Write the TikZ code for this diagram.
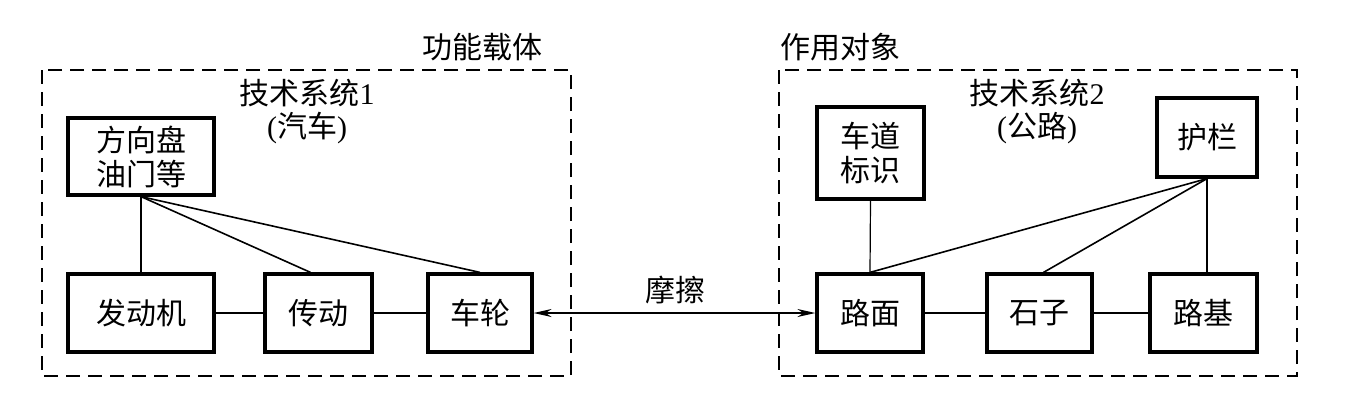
\documentclass[tikz,border=0pt]{standalone}
\usepackage{fontspec}
\setmainfont{Liberation Serif}
\newfontfamily\cjk{Noto Sans CJK SC}
\usetikzlibrary{arrows.meta}
\begin{document}
\begin{tikzpicture}[x=0.5pt,y=-0.5pt,
  box/.style={draw,line width=1.6pt,align=center,inner sep=0pt,font=\cjk\fontsize{15}{17}\selectfont},
  lbl/.style={inner sep=0pt,align=center,font=\cjk\fontsize{15}{17}\selectfont},
  frame/.style={draw,line width=1pt,dash pattern=on 7pt off 4pt},
  link/.style={line width=0.8pt},
  thinlink/.style={line width=0.6pt},
  >={Stealth[length=9pt,width=4pt]}]
\useasboundingbox (0,0) rectangle (1355,403);
% frames
\draw[frame] (42,70) rectangle (571,376);
\draw[frame] (779,70) rectangle (1297,376);
\node[lbl] (t1) at (482,47) {功能载体};
\node[lbl] (t2) at (840,47) {作用对象};
\node[lbl] (s1) at (307,93) {技术系统\textrm{1}};
\node[lbl] (p1) at (307,128) {\textrm{(}汽车\textrm{)}};
\node[lbl] (s2) at (1037,93) {技术系统\textrm{2}};
\node[lbl] (p2) at (1037,128) {\textrm{(}公路\textrm{)}};
% left system
\node[box,minimum width=73pt,minimum height=38.5pt] (fx) at (141,156.5) {方向盘\\油门等};
\node[box,minimum width=73pt,minimum height=39pt] (fdj) at (141,313) {发动机};
\node[box,minimum width=53.5pt,minimum height=39pt] (cd) at (318.5,313) {传动};
\node[box,minimum width=52pt,minimum height=39pt] (cl) at (480,313) {车轮};
% right system
\node[box,minimum width=53.5pt,minimum height=46pt] (cdbs) at (870.5,153) {车道\\标识};
\node[box,minimum width=50pt,minimum height=39.5pt] (hl) at (1207,137.5) {护栏};
\node[box,minimum width=53pt,minimum height=39pt] (lm) at (870,313) {路面};
\node[box,minimum width=52.5pt,minimum height=39pt] (sz) at (1039.5,313) {石子};
\node[box,minimum width=53.5pt,minimum height=39pt] (lj) at (1203.5,313) {路基};
% left connectors
\draw[thinlink] (fx.south) -- (fdj.north);
\draw[link] (fx.south) -- ([xshift=-4pt]cd.north);
\draw[link] (fx.south) -- (cl.north);
\draw[link] (fdj.east) -- (cd.west);
\draw[link] (cd.east) -- (cl.west);
% right connectors
\draw[thinlink] (cdbs.south) -- (lm.north);
\draw[link] (hl.south) -- (lm.north);
\draw[link] (hl.south) -- ([xshift=2pt]sz.north);
\draw[thinlink] (hl.south) -- (lj.north -| hl.south);
\draw[link] (lm.east) -- (sz.west);
\draw[link] (sz.east) -- (lj.west);
% interaction
\draw[link,<->] (cl.east) -- (lm.west);
\node[lbl] (mc) at (675,290) {摩擦};
\end{tikzpicture}
\end{document}
